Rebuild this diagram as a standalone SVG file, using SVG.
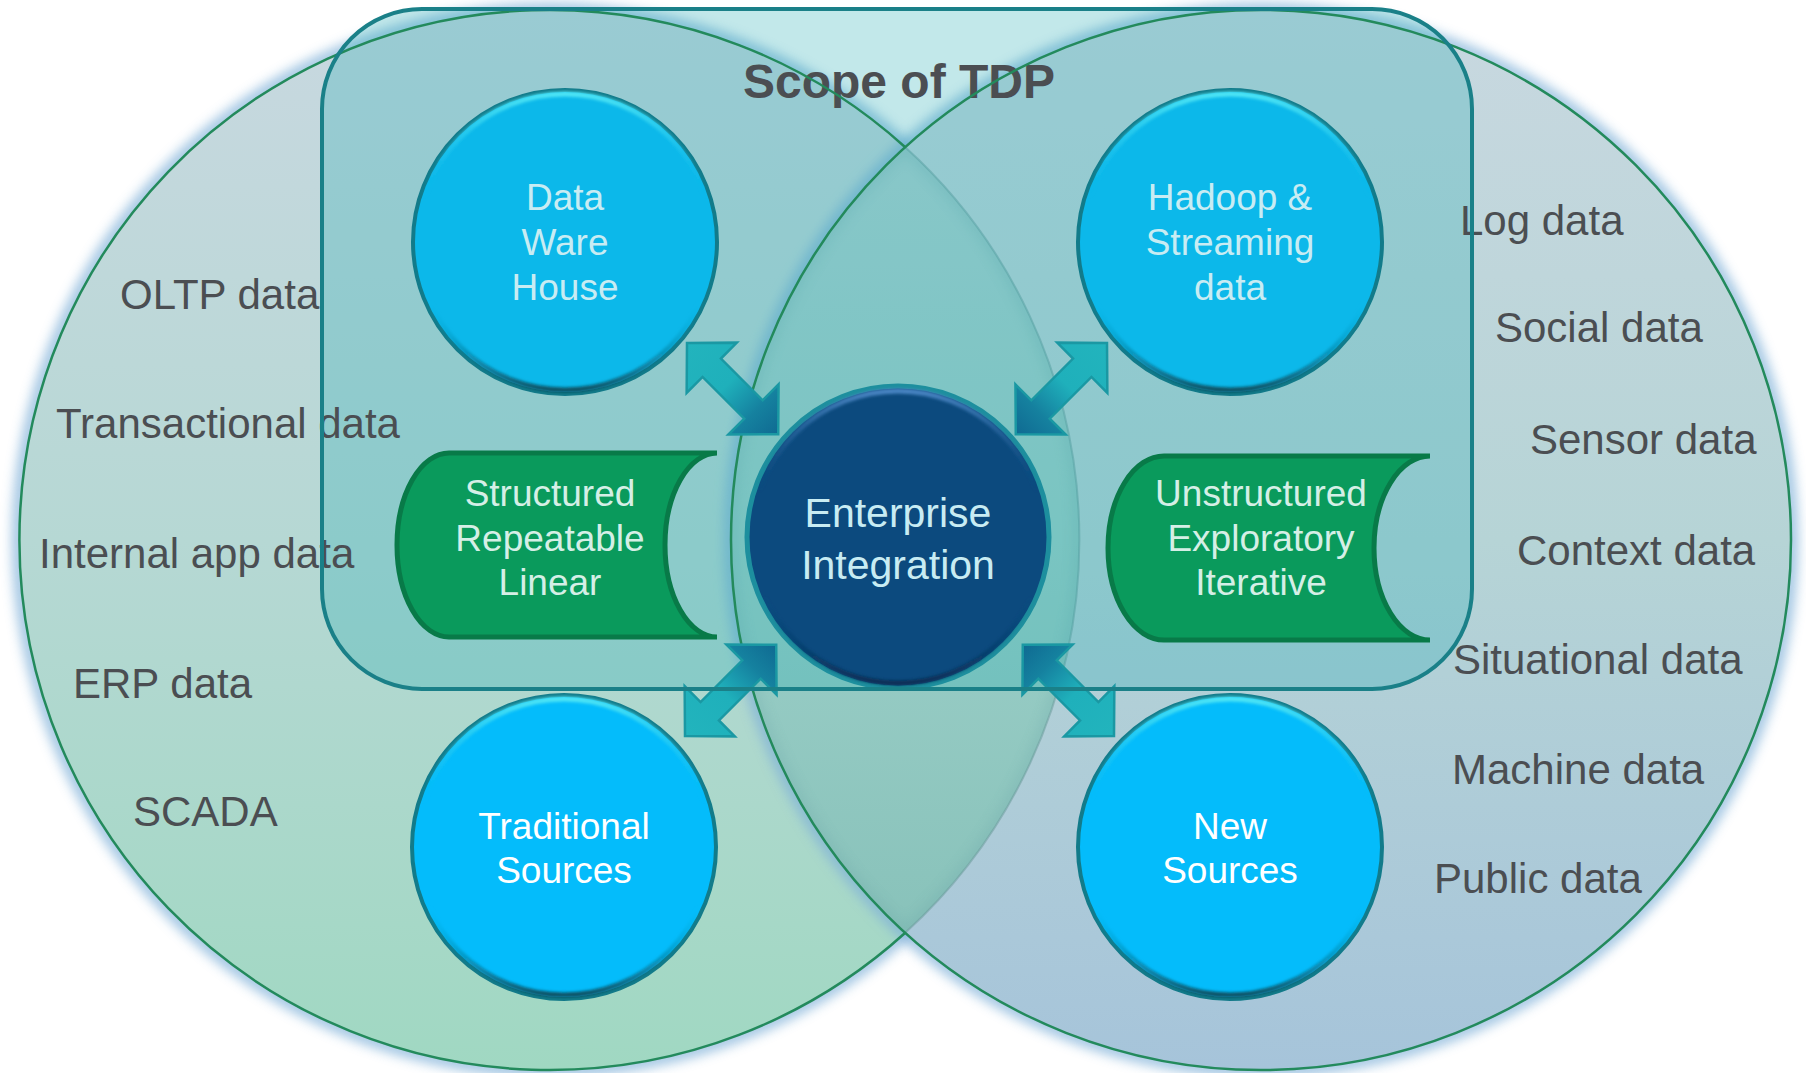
<svg xmlns="http://www.w3.org/2000/svg" width="1806" height="1073" viewBox="0 0 1806 1073">
<defs>
<style>
.lbl{font-family:"Liberation Sans",Arial,sans-serif;font-size:42px;fill:#4b4e52}
.ntxt{font-family:"Liberation Sans",Arial,sans-serif;font-size:37px;text-anchor:middle}
.light{fill:#c8ecf3}
.white{fill:#ffffff}
.gtxt{fill:#d5efe6}
.node{fill:#0cb8ea;stroke:#127b8a;stroke-width:4}
.nodeB{fill:#04bcfb;stroke:#127b8a;stroke-width:4}
.bevel{fill:none;stroke:url(#gBevel);stroke-width:5}
.green{fill:#0a9a5c;stroke:#087a48;stroke-width:5}
.arrow{fill:url(#gArrow);stroke:#1a98a3;stroke-width:2.5;stroke-linejoin:miter}
.vstroke{fill:none;stroke:#238a5c;stroke-width:2.5}
.halo{fill:none;stroke:#7fb0d8;stroke-width:14;opacity:0.75}
</style>
<linearGradient id="gL" x1="0" y1="0" x2="0" y2="1">
<stop offset="0" stop-color="#c8d8e0"/>
<stop offset="0.5" stop-color="#b6d8d4"/>
<stop offset="1" stop-color="#a0d8c2"/>
</linearGradient>
<linearGradient id="gR" x1="0" y1="0" x2="0" y2="1">
<stop offset="0" stop-color="#c8d8e0"/>
<stop offset="0.5" stop-color="#b6d4d6"/>
<stop offset="1" stop-color="#a6c4da"/>
</linearGradient>
<linearGradient id="gLens" x1="0" y1="0" x2="0" y2="1">
<stop offset="0" stop-color="#b0d2d2"/>
<stop offset="0.5" stop-color="#9ccfc8"/>
<stop offset="1" stop-color="#88c2ba"/>
</linearGradient>
<linearGradient id="gBevel" x1="0" y1="0" x2="0" y2="1">
<stop offset="0" stop-color="#4fe6f5"/>
<stop offset="0.35" stop-color="#0cb8ea" stop-opacity="0"/>
<stop offset="0.7" stop-color="#0cb8ea" stop-opacity="0"/>
<stop offset="1" stop-color="#0a4f60"/>
</linearGradient>
<linearGradient id="gBevelE" x1="0" y1="0" x2="0" y2="1">
<stop offset="0" stop-color="#4a86c4"/>
<stop offset="0.35" stop-color="#0c4a7e" stop-opacity="0"/>
<stop offset="0.7" stop-color="#0c4a7e" stop-opacity="0"/>
<stop offset="1" stop-color="#082f55"/>
</linearGradient>
<linearGradient id="gArrow" x1="0" y1="0" x2="1" y2="0">
<stop offset="0" stop-color="#22b4bd"/>
<stop offset="0.45" stop-color="#1fb0bb"/>
<stop offset="0.75" stop-color="#15819f"/>
<stop offset="1" stop-color="#0f6a92"/>
</linearGradient>
<filter id="blur6" x="-10%" y="-10%" width="120%" height="120%"><feGaussianBlur stdDeviation="6"/></filter>
<filter id="blur2" x="-10%" y="-10%" width="120%" height="120%"><feGaussianBlur stdDeviation="1.5"/></filter>
<clipPath id="lensClip"><path d="M905 147 A530 530 0 0 0 905 933 A530 530 0 0 0 905 147 Z"/></clipPath>
<path id="arr" d="M0 0 L35 -35.5 L35 -13 L94 -13 L94 -35.5 L129 0 L94 35.5 L94 13 L35 13 L35 35.5 Z"/>
</defs>

<g id="venn-left">
<circle cx="549" cy="540" r="530" class="halo" filter="url(#blur6)"/>
<circle cx="549" cy="540" r="530" fill="url(#gL)"/>
</g>
<g id="venn-right">
<circle cx="1261" cy="540" r="530" class="halo" filter="url(#blur6)"/>
<circle cx="1261" cy="540" r="530" fill="url(#gR)"/>
</g>
<g id="venn-lens">
<path d="M905 147 A530 530 0 0 0 905 933 A530 530 0 0 0 905 147 Z" fill="url(#gLens)"/>
<g clip-path="url(#lensClip)">
<path d="M905 147 A530 530 0 0 0 905 933 A530 530 0 0 0 905 147 Z" fill="none" stroke="#5f9aa0" stroke-width="12" opacity="0.2" filter="url(#blur6)"/>
</g>
<path d="M905 147 A530 530 0 0 1 905 933" fill="none" stroke="#6a9a9a" stroke-width="2" opacity="0.5"/>
</g>

<g id="scope">
<rect x="322" y="9" width="1150" height="680" rx="100" ry="100" fill="#1eaab2" fill-opacity="0.27"/>
<text x="899" y="98" text-anchor="middle" font-family="'Liberation Sans',Arial,sans-serif" font-size="48" font-weight="bold" fill="#4b4e52">Scope of TDP</text>
</g>

<g id="venn-strokes">
<path d="M905 147 A530 530 0 1 0 905 933" class="vstroke"/>
<circle cx="1261" cy="540" r="530" class="vstroke"/>
</g>

<g id="labels-left">
<text class="lbl" x="120" y="309">OLTP data</text>
<text class="lbl" x="56" y="438">Transactional data</text>
<text class="lbl" x="39" y="568">Internal app data</text>
<text class="lbl" x="73" y="698">ERP data</text>
<text class="lbl" x="133" y="826">SCADA</text>
</g>
<g id="labels-right">
<text class="lbl" x="1460" y="235">Log data</text>
<text class="lbl" x="1495" y="342">Social data</text>
<text class="lbl" x="1530" y="454">Sensor data</text>
<text class="lbl" x="1517" y="565">Context data</text>
<text class="lbl" x="1453" y="674">Situational data</text>
<text class="lbl" x="1452" y="784">Machine data</text>
<text class="lbl" x="1434" y="893">Public data</text>
</g>

<g id="structured">
<path class="green" d="M449 453 L717 453 A52 92 0 0 0 717 637 L449 637 A52 92 0 0 1 449 453 Z"/>
<text class="ntxt gtxt" x="550" y="506">Structured</text>
<text class="ntxt gtxt" x="550" y="551">Repeatable</text>
<text class="ntxt gtxt" x="550" y="595">Linear</text>
</g>
<g id="unstructured">
<path class="green" d="M1164 456 L1430 456 A56 92 0 0 0 1430 640 L1164 640 A56 92 0 0 1 1164 456 Z"/>
<text class="ntxt gtxt" x="1261" y="506">Unstructured</text>
<text class="ntxt gtxt" x="1261" y="551">Exploratory</text>
<text class="ntxt gtxt" x="1261" y="595">Iterative</text>
</g>

<g id="data-warehouse">
<circle class="node" cx="565" cy="242" r="152"/>
<circle class="bevel" cx="565" cy="242" r="148" filter="url(#blur2)"/>
<text class="ntxt light" x="565" y="210">Data</text>
<text class="ntxt light" x="565" y="255">Ware</text>
<text class="ntxt light" x="565" y="300">House</text>
</g>
<g id="hadoop">
<circle class="node" cx="1230" cy="242" r="152"/>
<circle class="bevel" cx="1230" cy="242" r="148" filter="url(#blur2)"/>
<text class="ntxt light" x="1230" y="210">Hadoop &amp;</text>
<text class="ntxt light" x="1230" y="255">Streaming</text>
<text class="ntxt light" x="1230" y="300">data</text>
</g>
<g id="traditional">
<circle class="nodeB" cx="564" cy="847" r="152"/>
<circle class="bevel" cx="564" cy="847" r="148" filter="url(#blur2)"/>
<text class="ntxt white" x="564" y="839">Traditional</text>
<text class="ntxt white" x="564" y="883">Sources</text>
</g>
<g id="new-sources">
<circle class="nodeB" cx="1230" cy="847" r="152"/>
<circle class="bevel" cx="1230" cy="847" r="148" filter="url(#blur2)"/>
<text class="ntxt white" x="1230" y="839">New</text>
<text class="ntxt white" x="1230" y="883">Sources</text>
</g>
<g id="enterprise">
<circle cx="898" cy="537" r="151" fill="#0c4a7e" stroke="#1d8f9e" stroke-width="5"/>
<circle cx="898" cy="537" r="146" fill="none" stroke="url(#gBevelE)" stroke-width="5" filter="url(#blur2)"/>
<text x="898" y="527" text-anchor="middle" font-family="'Liberation Sans',Arial,sans-serif" font-size="41" fill="#c8ecf3">Enterprise</text>
<text x="898" y="579" text-anchor="middle" font-family="'Liberation Sans',Arial,sans-serif" font-size="41" fill="#c8ecf3">Integration</text>
</g>

<g id="connectors">
<use href="#arr" class="arrow" transform="translate(687 343) rotate(45)"/>
<use href="#arr" class="arrow" transform="translate(1107 343) rotate(135)"/>
<use href="#arr" class="arrow" transform="translate(685 736) rotate(-45)"/>
<use href="#arr" class="arrow" transform="translate(1114 736) rotate(-135)"/>
</g>

<g id="scope-border">
<rect x="322" y="9" width="1150" height="680" rx="100" ry="100" fill="none" stroke="#1a8088" stroke-width="4"/>
</g>
</svg>
